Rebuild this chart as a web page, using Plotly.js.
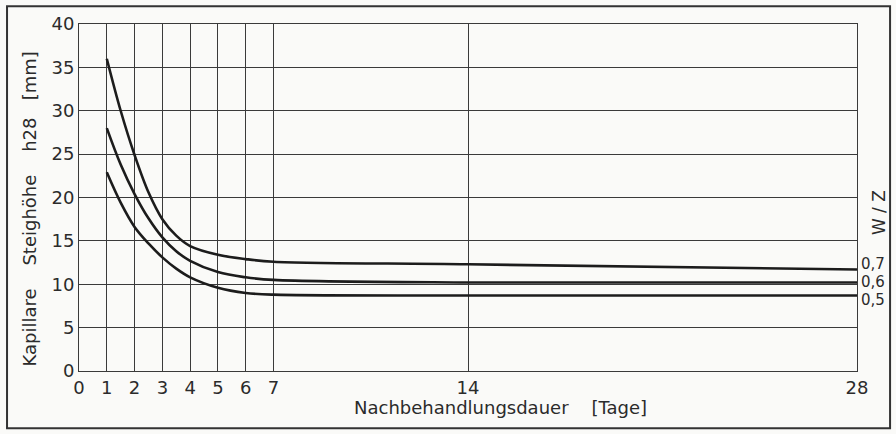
<!DOCTYPE html>
<html>
<head>
<meta charset="utf-8">
<script src="https://cdn.plot.ly/plotly-3.0.1.min.js"></script>
<style>html,body{margin:0;padding:0;background:#fafaf8;}#chart{width:896px;height:434px;}</style>
</head>
<body>
<div id="chart"></div>
<script>
// Nachbehandlungsdauer [Tage]
const days = [1, 1.5, 2, 2.5, 3, 3.5, 4, 5, 6, 7, 14, 28];
// Kapillare Steighöhe h28 [mm] per W/Z
const wz07 = [36.0, 30.0, 24.9, 20.6, 17.5, 15.6, 14.4, 13.4, 12.9, 12.6, 12.3, 11.7];
const wz06 = [28.0, 23.8, 20.4, 17.6, 15.4, 13.8, 12.7, 11.4, 10.8, 10.5, 10.2, 10.2];
const wz05 = [22.9, 19.4, 16.6, 14.7, 13.1, 11.8, 10.8, 9.6, 9.0, 8.8, 8.7, 8.7];
const seriesNames = ["0,7", "0,6", "0,5"];
const seriesValues = [wz07, wz06, wz05];
const labelShift = [6, 1, -4];
const xTicks = [0, 1, 2, 3, 4, 5, 6, 7, 14, 28];
const yTicks = [0, 5, 10, 15, 20, 25, 30, 35, 40];

const ink = "#2b2b2b";
const fontFam = "'DejaVu Sans', 'Noto Sans', sans-serif";

const traces = seriesValues.map((vals, i) => ({
  x: days, y: vals, type: "scatter", mode: "lines", name: seriesNames[i],
  line: {color: "#1c1c1c", width: 2.6, shape: "spline", smoothing: 1},
  hoverinfo: "skip"
}));

const annotations = seriesValues.map((vals, i) => ({
  xref: "paper", yref: "y", x: 1, y: vals[vals.length - 1],
  xanchor: "left", yanchor: "middle", xshift: 2, yshift: labelShift[i],
  text: seriesNames[i], showarrow: false,
  font: {family: fontFam, size: 15, color: ink}
}));
annotations.push({
  xref: "paper", yref: "paper", x: 1, y: 0.455, xanchor: "left", yanchor: "middle",
  xshift: 10, text: "W / Z", textangle: -90, showarrow: false,
  font: {family: fontFam, size: 17, color: ink}
});
annotations.push({
  xref: "paper", yref: "paper", x: 0.542, y: 0, xanchor: "center", yanchor: "top",
  yshift: -24, text: "Nachbehandlungsdauer&nbsp;&nbsp;&nbsp;&nbsp;[Tage]", showarrow: false,
  font: {family: fontFam, size: 18, color: ink}
});
annotations.push({
  xref: "paper", yref: "paper", x: 0, y: 0.5, xanchor: "center", yanchor: "middle",
  xshift: -50, yshift: -12,
  text: "Kapillare&nbsp;&nbsp;&nbsp;&nbsp;Steighöhe&nbsp;&nbsp;&nbsp;&nbsp;h28&nbsp;&nbsp;&nbsp;[mm]", textangle: -90, showarrow: false,
  font: {family: fontFam, size: 18, color: ink}
});

const layout = {
  width: 896, height: 434,
  margin: {l: 79, r: 39, t: 24, b: 63},
  paper_bgcolor: "#fafaf8", plot_bgcolor: "#fafaf8",
  showlegend: false,
  xaxis: {
    range: [0, 28], tickvals: xTicks, ticktext: xTicks.map(String),
    showgrid: true, gridcolor: "#3a3a3a", gridwidth: 1,
    showline: true, linecolor: "#3a3a3a", linewidth: 1, mirror: true,
    zeroline: false, ticks: "", ticklen: 0,
    tickfont: {family: fontFam, size: 18, color: ink}
  },
  yaxis: {
    range: [0, 40], tickvals: yTicks, ticktext: yTicks.map(String),
    showgrid: true, gridcolor: "#3a3a3a", gridwidth: 1,
    showline: true, linecolor: "#3a3a3a", linewidth: 1, mirror: true,
    zeroline: false, ticks: "", ticklen: 0,
    tickfont: {family: fontFam, size: 18, color: ink}
  },
  annotations: annotations,
  shapes: [{
    type: "rect", xref: "paper", yref: "paper",
    x0: -0.0925, x1: 1.0425, y0: -0.165, y1: 1.051,
    line: {color: "#333", width: 2}
  }]
};

Plotly.newPlot("chart", traces, layout, {displayModeBar: false, staticPlot: true});
</script>
</body>
</html>
